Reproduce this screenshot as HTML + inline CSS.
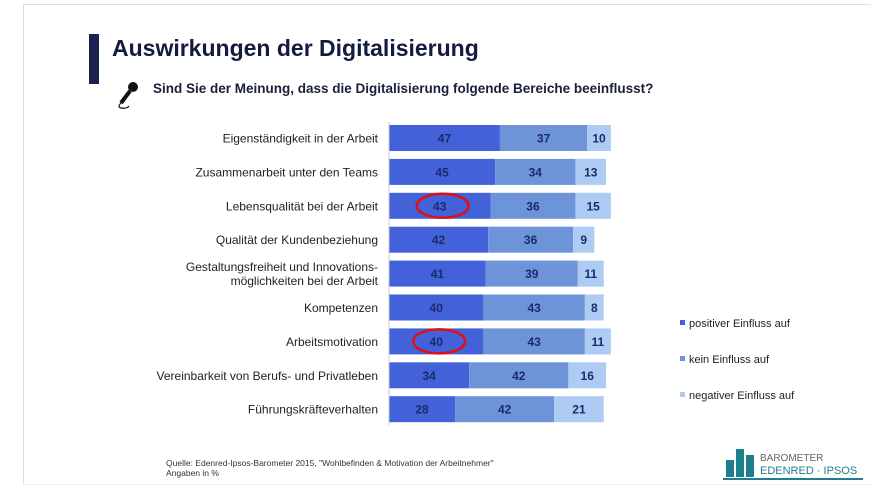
<!DOCTYPE html>
<html><head><meta charset="utf-8"><style>
body{margin:0;width:890px;height:500px;background:#fff;font-family:"Liberation Sans",sans-serif;position:relative;overflow:hidden}
.frame{position:absolute;left:23px;top:4px;width:847px;height:479px;border:1px solid #ddd;border-right:none;border-bottom:1px solid #eee}
.t{position:absolute;white-space:nowrap}
</style></head><body>
<div class="frame"></div>
<div class="t" style="left:89px;top:34px;width:10px;height:50px;background:#1b2150"></div>
<div class="t" style="left:112px;top:35px;font-size:23px;font-weight:bold;color:#141a40">Auswirkungen der Digitalisierung</div>
<svg class="t" style="left:112px;top:80px" width="30" height="30"><circle cx="21" cy="7" r="5" fill="#111"/><line x1="18" y1="11" x2="9" y2="23" stroke="#111" stroke-width="4"/><path d="M9 23 q-4 4 0 5 q6 1 8 -2" stroke="#111" fill="none" stroke-width="1.2"/></svg>
<div class="t" style="left:153px;top:81px;font-size:13.5px;font-weight:bold;color:#1a1f3a">Sind Sie der Meinung, dass die Digitalisierung folgende Bereiche beeinflusst?</div>
<svg class="t" style="left:0;top:0" width="890" height="500" id="chart"></svg>
<div class="t" style="left:166px;top:458px;font-size:8.5px;color:#333;line-height:10px">Quelle: Edenred-Ipsos-Barometer 2015, "Wohlbefinden &amp; Motivation der Arbeitnehmer"<br>Angaben in %</div>
<svg class="t" style="left:723px;top:443px" width="150" height="40">
<rect x="3" y="17" width="8" height="17" fill="#1d7f8c"/><rect x="13" y="6" width="8" height="28" fill="#1d7f8c"/><rect x="23" y="12" width="8" height="22" fill="#1d7f8c"/>
<text x="37" y="18" font-size="10" fill="#666" font-family="Liberation Sans">BAROMETER</text>
<text x="37" y="31" font-size="11" fill="#1d7f8c" font-family="Liberation Sans">EDENRED · IPSOS</text>
<rect x="0" y="35" width="140" height="2" fill="#1d7f8c"/></svg>
<script>
const categories=["Eigenständigkeit in der Arbeit","Zusammenarbeit unter den Teams","Lebensqualität bei der Arbeit","Qualität der Kundenbeziehung","Gestaltungsfreiheit und Innovations-|möglichkeiten bei der Arbeit","Kompetenzen","Arbeitsmotivation","Vereinbarkeit von Berufs- und Privatleben","Führungskräfteverhalten"];
const positive=[47,45,43,42,41,40,40,34,28];
const neutral=[37,34,36,36,39,43,43,42,42];
const negative=[10,13,15,9,11,8,11,16,21];
const seriesNames=["positiver Einfluss auf","kein Einfluss auf","negativer Einfluss auf"];
const colors=["#4361d9","#6d94d9","#aecbf3"];
const circled=[2,6];
const NS="http://www.w3.org/2000/svg";
const svg=document.getElementById('chart');
const x0=389,k=2.36,y0=138,step=33.9,bh=26;
const xs=v=>v*k, yc=i=>y0+i*step;
function el(t,a){const e=document.createElementNS(NS,t);for(const n in a)e.setAttribute(n,a[n]);svg.appendChild(e);return e;}
categories.forEach((c,i)=>{
  const vals=[positive[i],neutral[i],negative[i]];let x=x0;
  vals.forEach((v,s)=>{
    const r=el('rect',{x:x,y:yc(i)-bh/2,width:xs(v),height:bh,fill:colors[s]});
    
    
    const t=el('text',{x:x+xs(v)/2,y:yc(i)+4.5,'text-anchor':'middle','font-size':12,'font-weight':'bold',fill:'#1c2a6b','font-family':'Liberation Sans'});
    t.textContent=v;
    
    
    x+=xs(v);
  });
  const lines=c.split('|');
  lines.forEach((l,j)=>{
    const t=el('text',{x:378,y:yc(i)+4.5+(j-(lines.length-1)/2)*14,'text-anchor':'end','font-size':12,fill:'#222','font-family':'Liberation Sans'});
    t.textContent=l;
    
    
  });
  if(circled.includes(i)){
    const e=el('ellipse',{cx:x0+xs(positive[i])/2+3,cy:yc(i),rx:26,ry:12,fill:'none',stroke:'#d11',"stroke-width":2.5});
    
    
  }
});
el('line',{x1:x0,y1:yc(0)-bh/2-3,x2:x0,y2:yc(8)+bh/2+3,stroke:'#ccc'});
seriesNames.forEach((n,s)=>{
  const y=327+s*36;
  const r=el('rect',{x:680,y:y-7,width:5,height:5,fill:colors[s]});
  
  
  const t=el('text',{x:689,y:y,'font-size':11,fill:'#222','font-family':'Liberation Sans'});
  t.textContent=n;
  
  
});
</script>
</body></html>
